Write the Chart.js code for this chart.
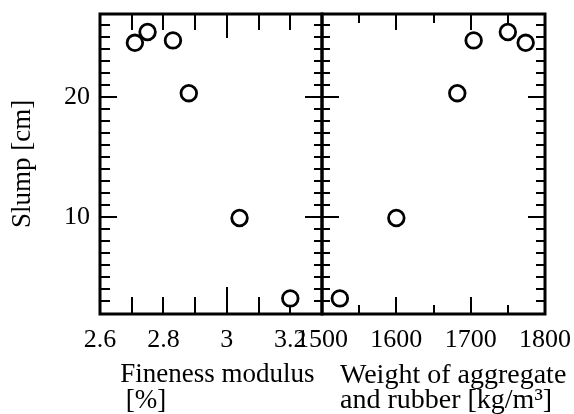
<!DOCTYPE html>
<html>
<head>
<meta charset="utf-8">
<script src="https://cdn.jsdelivr.net/npm/chart.js@4/dist/chart.umd.min.js"></script>
<style>
html, body { margin: 0; padding: 0; background: #fff; }
#wrap { position: relative; width: 574px; height: 414px; }
canvas { position: absolute; left: 0; top: 0; }
</style>
</head>
<body>
<div id="wrap">
    <canvas id="fineness-chart" width="574" height="414"></canvas>
    <canvas id="weight-chart" width="574" height="414"></canvas>
</div>
<script>
// ==============================
// DATA
// ==============================
const slump = [24.5, 25.4, 24.7, 20.3, 9.9, 3.2];
const finenessModulus = [2.71, 2.75, 2.83, 2.88, 3.04, 3.20];
const aggregateWeight = [1774, 1750, 1704, 1682, 1600, 1524];

const slumpTicks = [10, 20];
const finenessTicks = [2.6, 2.8, 3, 3.2];
const weightTicks = [1500, 1600, 1700, 1800];

// minor tick marks (no labels)
const slumpMarks = [3,4,5,6,7,8,9,10,11,12,13,14,15,16,17,18,19,20,21,22,23,24,25,26];
const finenessMarks = [2.7, 2.8, 2.9, 3.0, 3.1, 3.2];
const weightMarks = [1550, 1600, 1650, 1700, 1750];

const weightTitle = ['Weight of aggregate', 'and rubber [kg/m³]'];

const FONT = "'Liberation Serif', 'Times New Roman', serif";

// ==============================
// INWARD TICKS + FRAME
// ==============================
function tickMarks(opts) {
    return {
        id: 'tickMarks',
        beforeDatasetsDraw(chart) {
            const ctx = chart.ctx;
            const a = chart.chartArea;
            const x = chart.scales.x;
            const y = chart.scales.y;

            ctx.save();
            ctx.strokeStyle = '#000';
            ctx.lineWidth = 2;
            ctx.beginPath();

            opts.xMarks.forEach(v => {
                const px = Math.round(x.getPixelForValue(v));
                const len = opts.xLen(v);
                ctx.moveTo(px, a.bottom);
                ctx.lineTo(px, a.bottom - len.bottom);
                ctx.moveTo(px, a.top);
                ctx.lineTo(px, a.top + len.top);
            });

            opts.yMarks.forEach(v => {
                const py = Math.round(y.getPixelForValue(v));
                const len = opts.yLen(v);
                ctx.moveTo(a.left, py);
                ctx.lineTo(a.left + len.left, py);
                ctx.moveTo(a.right, py);
                ctx.lineTo(a.right - len.right, py);
            });
            ctx.stroke();

            ctx.lineWidth = 3;
            ctx.strokeRect(a.left, a.top, a.right - a.left, a.bottom - a.top);
            ctx.restore();
        }
    };
}

// left aligned two-line caption under the x axis (not squeezed to axis width)
const xCaption = {
    id: 'xCaption',
    afterDraw(chart, args, opts) {
        if (!opts.lines) return;
        const ctx = chart.ctx;
        const a = chart.chartArea;
        ctx.save();
        ctx.fillStyle = '#000';
        ctx.font = opts.size + 'px ' + FONT;
        ctx.textAlign = 'left';
        ctx.textBaseline = 'alphabetic';
        opts.lines.forEach((t, i) => {
            ctx.fillText(t, a.left + opts.indent, a.bottom + opts.first + i * opts.step);
        });
        ctx.restore();
    }
};

function pointDataset(xs) {
    return {
        data: xs.map((v, i) => ({x: v, y: slump[i]})),
        pointStyle: 'circle',
        pointRadius: 7.8,
        pointBorderWidth: 2.8,
        borderColor: '#000',
        backgroundColor: '#fff',
        showLine: false,
        clip: false
    };
}

// no label overhang padding, the plot box is fixed
function noPadding(s) {
    s.paddingTop = 0;
    s.paddingBottom = 0;
    s.paddingLeft = 0;
    s.paddingRight = 0;
}

// ==============================
// LEFT PANEL: FINENESS MODULUS
// ==============================
new Chart(document.getElementById('fineness-chart'), {
    type: 'scatter',
    data: {datasets: [pointDataset(finenessModulus)]},
    options: {
        responsive: false,
        animation: false,
        layout: {padding: {left: 0, right: 252, top: 14, bottom: 0}},
        plugins: {
            legend: {display: false},
            tooltip: {enabled: false},
            xCaption: {}
        },
        scales: {
            x: {
                min: 2.6,
                max: 3.3,
                grid: {display: false, drawTicks: false},
                border: {display: false},
                afterBuildTicks: s => { s.ticks = finenessTicks.map(v => ({value: v})); },
                afterFit: s => { s.height = 100; noPadding(s); },
                ticks: {
                    autoSkip: false,
                    maxRotation: 0,
                    padding: 11,
                    color: '#000',
                    font: {family: FONT, size: 26},
                    callback: v => String(v)
                },
                title: {
                    display: true,
                    align: 'start',
                    text: ['   Fineness modulus', '   \u2009[%]'],
                    color: '#000',
                    padding: {top: 0, bottom: 1},
                    font: {family: FONT, size: 27, lineHeight: 0.93}
                }
            },
            y: {
                min: 1.9,
                max: 26.9,
                grid: {display: false, drawTicks: false},
                border: {display: false},
                afterBuildTicks: s => { s.ticks = slumpTicks.map(v => ({value: v})); },
                afterFit: s => { s.width = 100; noPadding(s); },
                ticks: {
                    padding: 10,
                    color: '#000',
                    font: {family: FONT, size: 26}
                },
                title: {
                    display: true,
                    text: 'Slump [cm]',
                    color: '#000',
                    padding: {top: 10, bottom: 0},
                    font: {family: FONT, size: 27, lineHeight: 0.93}
                }
            }
        }
    },
    plugins: [xCaption, tickMarks({
        xMarks: finenessMarks,
        xLen: v => Math.abs(v - 3) < 1e-6 ? {bottom: 27, top: 24} : {bottom: 17, top: 16},
        yMarks: slumpMarks,
        yLen: v => v % 10 === 0 ? {left: 17, right: 17} : {left: 10, right: 8}
    })]
});

// ==============================
// RIGHT PANEL: AGGREGATE WEIGHT
// ==============================
new Chart(document.getElementById('weight-chart'), {
    type: 'scatter',
    data: {datasets: [pointDataset(aggregateWeight)]},
    options: {
        responsive: false,
        animation: false,
        layout: {padding: {left: 322, right: 29, top: 14, bottom: 0}},
        plugins: {
            legend: {display: false},
            tooltip: {enabled: false},
            xCaption: {lines: weightTitle, size: 28, indent: 18, first: 69, step: 25}
        },
        scales: {
            x: {
                min: 1500,
                max: 1800,
                grid: {display: false, drawTicks: false},
                border: {display: false},
                afterBuildTicks: s => { s.ticks = weightTicks.map(v => ({value: v})); },
                afterFit: s => { s.height = 100; noPadding(s); },
                ticks: {
                    autoSkip: false,
                    maxRotation: 0,
                    padding: 11,
                    color: '#000',
                    font: {family: FONT, size: 26},
                    callback: v => String(v)
                }
            },
            y: {
                min: 1.9,
                max: 26.9,
                display: false
            }
        }
    },
    plugins: [xCaption, tickMarks({
        xMarks: weightMarks,
        xLen: v => v % 100 === 0 ? {bottom: 17, top: 16} : {bottom: 9, top: 9},
        yMarks: slumpMarks,
        yLen: v => v % 10 === 0 ? {left: 17, right: 17} : {left: 8, right: 9}
    })]
});
</script>
</body>
</html>
